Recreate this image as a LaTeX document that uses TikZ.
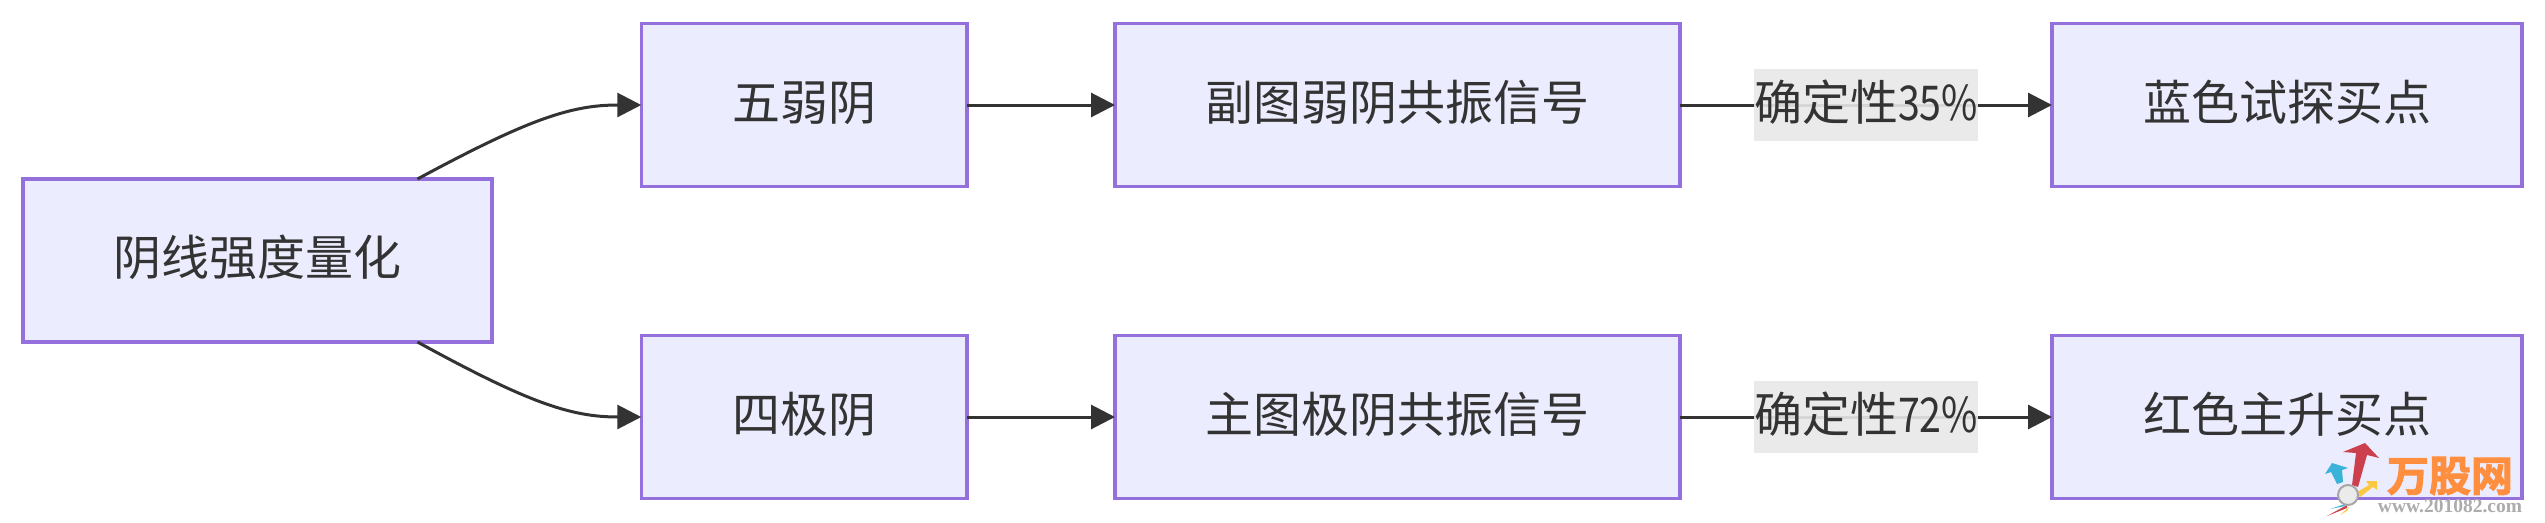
\documentclass[tikz,border=0pt]{standalone}
\usepackage{fontspec}
\setmainfont{Noto Sans CJK SC}
\newfontfamily\urlfont{Liberation Serif}
\newfontfamily\digitfont[FakeStretch=0.82]{Noto Sans CJK SC}
\newfontfamily\markfont[FakeBold=2.5]{Noto Sans CJK SC Bold}
\usepackage{tikz}
\usetikzlibrary{arrows.meta}
\definecolor{boxfill}{HTML}{ECECFF}
\definecolor{boxline}{HTML}{9370DB}
\definecolor{edgeink}{HTML}{333333}
\definecolor{labelbg}{HTML}{E8E8E8}
\definecolor{markorange}{HTML}{FF8F3F}
\definecolor{markred}{HTML}{CC3F4C}
\definecolor{markblue}{HTML}{3BB3D8}
\definecolor{markyellow}{HTML}{F9C942}
\tikzset{
  flowbox/.style={draw=boxline,fill=boxfill,line width=3.5pt,text=edgeink,inner sep=0pt,outer sep=0pt,minimum height=163pt,text height=36pt,text depth=6pt,font=\fontsize{48}{57}\selectfont},
  edgelabel/.style={fill=labelbg,fill opacity=0.9,text opacity=1,text=edgeink,inner sep=0pt,outer sep=0pt,minimum width=222pt,minimum height=72pt,text height=36pt,text depth=6pt,font=\fontsize{48}{57}\selectfont},
  flow/.style={draw=edgeink,line width=3pt,-{Triangle[length=24pt,width=24pt]}}
}
\begin{document}
\begin{tikzpicture}[x=1pt,y=-1pt]
\useasboundingbox (0,0) rectangle (2545,522);
\node[flowbox,minimum width=469pt] (quant) at (257.5,260.5) {阴线强度量化};
\node[flowbox,minimum width=325.5pt] (five) at (804,105) {五弱阴};
\node[flowbox,minimum width=325.5pt] (four) at (804,417) {四极阴};
\node[flowbox,minimum width=565pt] (subsig) at (1397.5,105) {副图弱阴共振信号};
\node[flowbox,minimum width=565pt] (mainsig) at (1397.5,417) {主图极阴共振信号};
\node[flowbox,minimum width=470pt] (bluebuy) at (2287,105) {蓝色试探买点};
\node[flowbox,minimum width=470pt] (redbuy) at (2287,417) {红色主升买点};
\draw[flow] (quant.27.4) .. controls (527,120) and (570,105) .. (five.west);
\draw[flow] (quant.-27.4) .. controls (527,402) and (570,417) .. (four.west);
\draw[flow] (five)--(subsig);
\draw[flow] (four)--(mainsig);
\draw[flow] (subsig)--(bluebuy);
\draw[flow] (mainsig)--(redbuy);
\node[edgelabel] (labelblue) at (1866,105) {确定性{\digitfont 35\%}};
\node[edgelabel] (labelred) at (1866,417) {确定性{\digitfont 72\%}};
\fill[markred] (2365,443)--(2379,458)--(2367,455)--(2358,487)--(2352,485)--(2356,453)--(2343,452)--cycle;
\fill[markblue] (2332,463)--(2348,468)--(2342,470)--(2343,482)--(2337,484)--(2331,472)--(2325,474)--cycle;
\fill[markyellow] (2377,481)--(2377,490)--(2373,487)--(2360,497)--(2357,492)--(2369,485)--(2366,481)--cycle;
\fill[markred] (2327,516)--(2347,505)--(2347,508)--cycle;
\fill[markblue] (2330,509)--(2345,504)--(2345,506)--cycle;
\fill[markyellow] (2340,515)--(2349,507)--(2347,511)--cycle;
\filldraw[fill=white!92!black,draw=gray!70,line width=2pt] (2348,495) circle (10pt);
\node[text=markorange,inner sep=0pt,font=\markfont\fontsize{42}{42}\selectfont] (markname) at (2450,476) {万股网};
\node[text=gray!65,inner sep=0pt,font=\urlfont\fontsize{19.5}{20}\selectfont\bfseries] (markurl) at (2450,506.5) {www.201082.com};
\end{tikzpicture}
\end{document}
